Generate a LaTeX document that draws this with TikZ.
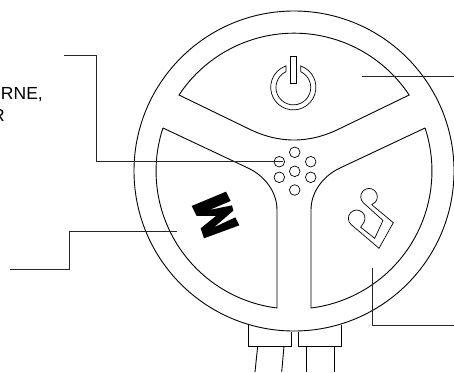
\documentclass[tikz,border=0pt]{standalone}
\usepackage{fontspec}
\setmainfont{Liberation Sans}
\tikzset{
  ln/.style={draw=black,line width=0.9pt,line join=miter},
  lead/.style={draw=black!85,line width=1pt},
  lbl/.style={anchor=base east,inner sep=0pt,font=\fontsize{17.5}{17.5}\selectfont}
}
\begin{document}
\begin{tikzpicture}[x=1pt,y=1pt,yscale=-1]
\useasboundingbox (0,0) rectangle (454,372);
\clip (0,0) rectangle (454,372);
% rim
\draw[ln] (294,171) circle[radius=160pt];
% segments
\draw[ln] (179,95) arc[start angle=213.5,end angle=326.5,radius=138pt] -- (341,128) .. controls (325,136) and (310,140) .. (294,140) .. controls (278,140) and (263,136) .. (247,128) -- cycle;
\draw[ln] (163,128) -- (248,168) .. controls (265,176) and (277,192) .. (277,210) -- (277,308) arc[start angle=97.1,end angle=198.2,radius=138pt];
\draw[ln] (425,128) -- (340,168) .. controls (323,176) and (311,192) .. (311,210) -- (311,308) arc[start angle=82.9,end angle=-18.2,radius=138pt];
% power symbol
\draw[ln,line width=0.7pt] (293.3,87.3) ++(-71:22.6pt) arc[start angle=-71,end angle=251,radius=22.6pt] -- (286,71.7) arc[start angle=245,end angle=-65,radius=17.4pt] -- cycle;
\draw[ln,line width=0.7pt] (290.3,56.3) rectangle (296.5,83);
% speaker dots
\foreach \p in {(294.7,152.3),(279.3,161.7),(310.7,161.7),(294.7,171.3),(279.3,177.3),(310.7,177.3),(294.7,190)}
  \draw[ln,line width=0.7pt] \p circle[radius=5.3pt];
% zigzag mark
\fill[black,shift={(150,140)},scale=0.3333] (228,155) -- (242,183) -- (178,210) -- (246,196) -- (250,212) -- (192,262) -- (256,232) -- (268,256) -- (162,295) -- (152,265) -- (198,228) -- (140,228) -- (125,198) -- cycle;
% note icon
\draw[ln,line width=0.7pt] (371.6,204.6) -- (393.3,222.7) -- (379,248.3) -- (351.1,224.5) arc[start angle=132,end angle=384,radius=8.3pt] -- (360.7,227.3) -- (374.7,238.3) -- (383,220.5) -- (363.6,203) arc[start angle=131,end angle=432,radius=8.3pt];
% cables
\draw[ln] (248.7,324.5) -- (248.7,346) -- (291,346) -- (291,331.9);
\draw[ln] (298.5,331.9) -- (298.5,346) -- (341.7,346) -- (341.7,324.5);
\draw[ln] (257.7,346) -- (255,372);
\draw[ln] (284,346) -- (281.7,372);
\draw[ln] (306,346) -- (306,372);
\draw[ln] (334,346) -- (334,372);
% leaders
\coordinate (l1a) at (64,55);
\coordinate (l1b) at (96.5,55);
\coordinate (l1c) at (96.5,161.7);
\coordinate (l1d) at (283,161.7);
\draw[lead] (l1a) -- (l1b) -- (l1c) -- (l1d);
\coordinate (l2a) at (10,269);
\coordinate (l2b) at (69.5,269);
\coordinate (l2c) at (69.5,231);
\coordinate (l2d) at (177,231);
\draw[lead] (l2a) -- (l2b) -- (l2c) -- (l2d);
\coordinate (l3a) at (362,76);
\coordinate (l3b) at (454,76);
\draw[lead] (l3a) -- (l3b);
\coordinate (l4a) at (372,268);
\coordinate (l4b) at (372,325);
\coordinate (l4c) at (454,325);
\draw[lead] (l4a) -- (l4b) -- (l4c);
% labels
\node[lbl] (t1) at (43,99) {RNE,};
\node[lbl] (t2) at (5,121) {R};
\end{tikzpicture}
\end{document}
